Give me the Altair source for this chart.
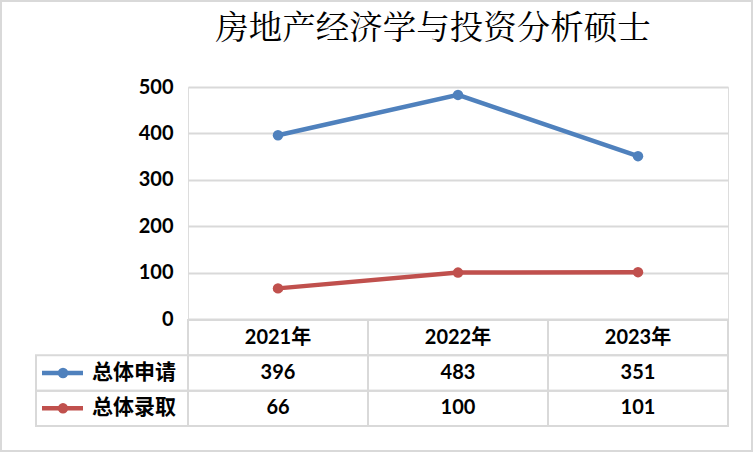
import altair as alt
import pandas as pd

# ---- data ----
years = ["2021年", "2022年", "2023年"]
series_names = ["总体申请", "总体录取"]
applications = [396, 483, 351]
admissions = [66, 100, 101]
title_text = "房地产经济学与投资分析硕士"
y_ticks = [0, 100, 200, 300, 400, 500]

colors = ["#4F81BD", "#C0504D"]
grid_col = "#D9D9D9"
FONT = "Lato, Noto Sans CJK SC"

rows = []
for s, vals in zip(series_names, [applications, admissions]):
    for y, v in zip(years, vals):
        rows.append({"series": s, "year": y, "value": v})
df = pd.DataFrame(rows)

row_domain = ["header"] + series_names
cells = [{"row": "header", "year": y, "label": y} for y in years]
cells += [{"row": r["series"], "year": r["year"], "label": str(r["value"])} for r in rows]
cells_df = pd.DataFrame(cells)
legend_df = pd.DataFrame({"row": series_names, "series": series_names})

W, H = 540, 339
PLOT_H = 232

color_scale = alt.Scale(domain=series_names, range=colors)
x_pt = alt.X("year:N", scale=alt.Scale(type="point", domain=years, padding=0.5), axis=None)
y_q = alt.Y(
    "value:Q",
    scale=alt.Scale(domain=[0, 500], range=[PLOT_H, 0], nice=False),
    axis=alt.Axis(
        values=y_ticks, title=None, domain=False, ticks=False, labelPadding=15,
        labelFont=FONT, labelFontSize=20, labelFontWeight="bold", labelColor="#000000",
        grid=True, gridColor=grid_col, gridWidth=2,
    ),
)

lines = alt.Chart(df).mark_line(
    strokeWidth=4.5,
    point=alt.OverlayMarkDef(filled=True, size=110, opacity=1),
).encode(
    x=x_pt, y=y_q,
    color=alt.Color("series:N", scale=color_scale, legend=None),
)

x_band = alt.X("year:N", scale=alt.Scale(type="band", domain=years, paddingInner=0, paddingOuter=0), axis=None)
y_band = alt.Y("row:N", scale=alt.Scale(type="band", domain=row_domain, range=[PLOT_H + 1, H], paddingInner=0, paddingOuter=0), axis=None)

table_cells = alt.Chart(cells_df).mark_rect(fill="white", fillOpacity=0, stroke=grid_col, strokeWidth=2).encode(
    x=x_band, y=y_band
)
table_text = alt.Chart(cells_df).mark_text(font=FONT, fontSize=20, fontWeight="bold", color="#000000").encode(
    x=x_band, y=y_band, text="label:N"
)
legend_cells = alt.Chart(legend_df).mark_rect(fill="white", fillOpacity=0, stroke=grid_col, strokeWidth=2).encode(
    x=alt.value(-152), x2=alt.value(0), y=y_band
)
legend_rule = alt.Chart(legend_df).mark_rule(strokeWidth=4.5).encode(
    x=alt.value(-146), x2=alt.value(-105), y=y_band,
    color=alt.Color("series:N", scale=color_scale, legend=None),
)
legend_pt = alt.Chart(legend_df).mark_point(filled=True, size=110, opacity=1).encode(
    x=alt.value(-125), y=y_band,
    color=alt.Color("series:N", scale=color_scale, legend=None),
)
legend_txt = alt.Chart(legend_df).mark_text(align="left", font="Noto Sans CJK SC", fontSize=21, fontWeight="bold", color="#000000").encode(
    x=alt.value(-96), y=y_band, text="row:N"
)
frame = alt.Chart(pd.DataFrame({"k": [0]})).mark_rect(fill="white", fillOpacity=0, stroke=grid_col, strokeWidth=2).encode(
    x=alt.value(-187), x2=alt.value(564), y=alt.value(-86), y2=alt.value(364)
)

chart = alt.layer(
    frame, lines, table_cells, table_text, legend_cells, legend_rule, legend_pt, legend_txt
).resolve_scale(
    x="independent", y="independent"
).properties(
    width=W, height=H,
    title=alt.Title(title_text, font="Noto Serif CJK SC, Noto Sans CJK SC", fontSize=33.5, fontWeight="normal",
                    color="#000000", anchor="middle", dx=-25, offset=-46),
    autosize=alt.AutoSizeParams(type="none"),
    padding={"left": 188, "top": 87, "right": 25, "bottom": 26},
).configure_view(stroke=None).configure(background="white")

chart.save("out.html", embed_options={"renderer": "svg", "actions": False})
